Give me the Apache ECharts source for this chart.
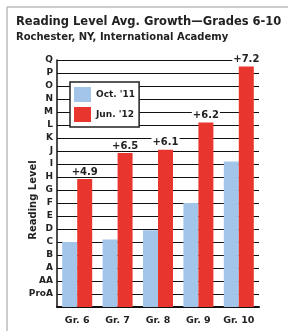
<!DOCTYPE html>
<html>
<head>
<meta charset="utf-8">
<script src="https://cdn.jsdelivr.net/npm/echarts@6/dist/echarts.min.js"></script>
<style>html,body{margin:0;padding:0;background:#fff;}#c{width:288px;height:331px;}</style>
</head>
<body>
<div id="c"></div>
<script>
const grades = ['Gr. 6', 'Gr. 7', 'Gr. 8', 'Gr. 9', 'Gr. 10'];
const levels = ['ProA', 'AA', 'A', 'B', 'C', 'D', 'E', 'F', 'G', 'H', 'I', 'J', 'K', 'L', 'M', 'N', 'O', 'P', 'Q'];
const oct11 = [5.0, 5.2, 5.9, 8.0, 11.2];
const jun12 = [9.85, 11.85, 12.1, 14.2, 18.5];
const growthLabels = ['+4.9', '+6.5', '+6.1', '+6.2', '+7.2'];

const FONT = '"DejaVu Sans", sans-serif';
const chart = echarts.init(document.getElementById('c'), null, {renderer: 'canvas'});
chart.setOption({
  animation: false,
  backgroundColor: '#fff',
  title: {
    text: 'Reading Level Avg. Growth\u2014Grades 6-10',
    subtext: 'Rochester, NY, International Academy',
    left: 16, top: 16, itemGap: 4,
    textStyle: {fontFamily: FONT, fontWeight: 'bold', fontSize: 11.5, color: '#222'},
    subtextStyle: {fontFamily: FONT, fontWeight: 'bold', fontSize: 10, color: '#222'},
    padding: 0
  },
  graphic: [
    {type: 'line', shape: {x1: 7, y1: 7, x2: 288, y2: 7}, style: {stroke: '#bbb', lineWidth: 1.5}},
    {type: 'line', shape: {x1: 7, y1: 7, x2: 7, y2: 331}, style: {stroke: '#bbb', lineWidth: 1.5}},
    {type: 'text', x: 33, y: 200, rotation: Math.PI / 2,
     style: {text: 'Reading Level', fontFamily: FONT, fontWeight: 'bold', fontSize: 10, fill: '#222', align: 'center', verticalAlign: 'middle'}}
  ],
  legend: {
    left: 70, top: 82, orient: 'vertical',
    data: ["Oct. '11", "Jun. '12"],
    icon: 'rect', itemWidth: 17, itemHeight: 15, itemGap: 5,
    backgroundColor: '#fff', borderColor: '#222', borderWidth: 1.5,
    padding: [5, 4, 5, 4],
    textStyle: {fontFamily: FONT, fontWeight: 'bold', fontSize: 9, color: '#222'}
  },
  grid: {left: 57, right: 29, top: 60, bottom: 24, containLabel: false},
  xAxis: {
    type: 'category', data: grades,
    axisLine: {lineStyle: {color: '#111', width: 2}},
    axisTick: {show: false},
    axisLabel: {interval: 0, fontFamily: FONT, fontWeight: 'bold', fontSize: 9.5, color: '#222', margin: 9}
  },
  yAxis: {
    type: 'value', min: 0, max: 19, interval: 1,
    axisLine: {show: true, lineStyle: {color: '#111', width: 1.5}},
    axisTick: {show: false},
    splitLine: {show: true, lineStyle: {color: '#111', width: 1.2}},
    axisLabel: {
      fontFamily: FONT, fontWeight: 'bold', fontSize: 9, color: '#222', margin: 4,
      formatter: v => (v >= 1 && v <= levels.length) ? levels[v - 1] : ''
    }
  },
  series: [
    {name: "Oct. '11", type: 'bar', data: oct11, barWidth: 15, barGap: '0%',
     itemStyle: {color: '#a4c5ea'}},
    {name: "Jun. '12", type: 'bar', data: jun12, barWidth: 15,
     itemStyle: {color: '#e8362f'},
     label: {show: true, position: 'top', distance: 2,
       formatter: p => growthLabels[p.dataIndex],
       fontFamily: FONT, fontWeight: 'bold', fontSize: 10, color: '#222',
       backgroundColor: '#fff', padding: [0, 1]}}
  ]
});
</script>
</body>
</html>
